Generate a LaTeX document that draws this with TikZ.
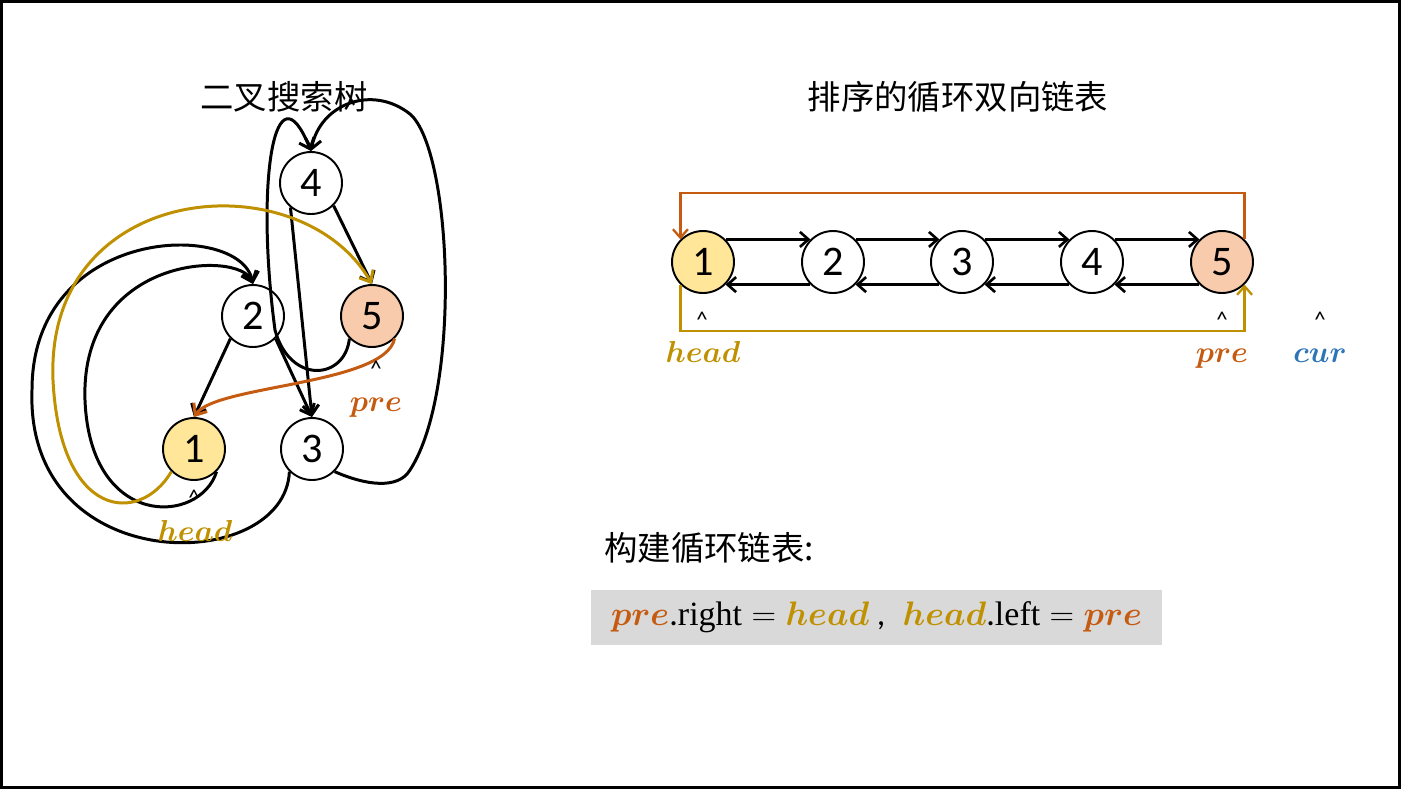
\documentclass[tikz,border=0pt]{standalone}
\usepackage{fontspec}
\usepackage{bm}
\setmainfont{Carlito}
\newfontfamily\cjk{Noto Sans CJK SC}
\newfontfamily\formfont{Liberation Serif}
\usetikzlibrary{arrows.meta}
\definecolor{HEADCOL}{HTML}{BF9000}
\definecolor{PRECOL}{HTML}{C55A11}
\definecolor{CURCOL}{HTML}{2E75B6}
\definecolor{HEADFILL}{HTML}{FFE699}
\definecolor{PREFILL}{HTML}{F8CBAD}
\definecolor{BOXGRAY}{HTML}{D9D9D9}
\begin{document}
\begin{tikzpicture}
[
 x=0.02cm, y=-0.02cm,
 inner sep=0mm,
 TCIRC/.style={circle, draw=black, fill=white, line width=1.1pt, minimum size=1.24cm, font=\fontsize{24}{24}\selectfont},
 HEADCIRC/.style={TCIRC, fill=HEADFILL},
 PRECIRC/.style={TCIRC, fill=PREFILL},
 TEDGE/.style={line width=1.7pt, -{Straight Barb[length=1.9mm,width=3.2mm]}},
 LEDGE/.style={line width=1.5pt, -{Straight Barb[length=1.7mm,width=3mm]}},
 LOOP/.style={line width=1.3pt, -{Straight Barb[length=1.7mm,width=3mm]}},
 CARET/.style={font=\fontsize{13}{13}\selectfont},
 PTR/.style={anchor=base, font=\fontsize{16}{16}\selectfont},
 TITLE/.style={font=\cjk\fontsize{19}{19}\selectfont},
 FORMBOX/.style={fill=BOXGRAY, minimum width=11.42cm, minimum height=1.1cm, font=\fontsize{17.28}{18}\selectfont},
 ]
%
\useasboundingbox (0,0) rectangle (1401,789);
\draw[line width=1.7pt] (1.5,1.5) rectangle (1399.5,787.5);
%
\node [TITLE]  (ttree)  at (284,97)  {二叉搜索树};
\node [TITLE]  (tlist)  at (958,97)  {排序的循环双向链表};
\node [TITLE, anchor=west]  (tbuild)  at (604,548)  {构建循环链表:};
%
% tree
\node [TCIRC]     (t4)   at (311,183)  {4};
\node [TCIRC]     (t2)   at (253,316)  {2};
\node [PRECIRC]   (t5)   at (372,316)  {5};
\node [HEADCIRC]  (t1)   at (194,449)  {1};
\node [TCIRC]     (t3)   at (312,449)  {3};
%
\draw [TEDGE]  (t4.-45)  -- (t5.north) ;
\draw [TEDGE]  (t4.-130) -- (t3.north) ;
\draw [TEDGE]  (t2.-135) -- (t1.north) ;
\draw [TEDGE]  (t2.-45)  -- (t3.north) ;
%
\draw [TEDGE]  (t1.-45) .. controls (200,525) and (90,530) .. (85,400)
               .. controls (80,255) and (240,250) .. (t2.north) ;
\draw [TEDGE]  (t3.-135) .. controls (285,575) and (25,580) .. (32,390)
               .. controls (32,225) and (240,220) .. (t2.north) ;
\draw [TEDGE]  (t5.-135) .. controls (345,380) and (290,385) .. (275,330)
               .. controls (255,180) and (275,62) .. (t4.north) ;
\draw [TEDGE]  (t3.-45) .. controls (365,485) and (398,490) .. (410,470)
               .. controls (462,390) and (452,150) .. (410,114)
               .. controls (372,84) and (320,104) .. (t4.north) ;
%
\draw [TEDGE, color=HEADCOL]  (t1.-135) .. controls (140,525) and (60,520) .. (53,380)
               .. controls (45,180) and (300,160) .. (t5.north) ;
\draw [TEDGE, color=PRECOL]   (t5.-45) .. controls (385,385) and (215,385) .. (t1.north) ;
%
\node [CARET]  (tc1)  at (194,498)  {\^{}};
\node [CARET]  (tc5)  at (376,369)  {\^{}};
\node [PTR, text=HEADCOL]  (thead)  at (195,541)  {$\bm{head}$};
\node [PTR, text=PRECOL]   (tpre)   at (376,411)  {$\bm{pre}$};
%
% list
\node [HEADCIRC]  (l1)   at (703,262)  {1};
\foreach \i/\x in {2/833,3/962,4/1092}
   { \node [TCIRC]  (l\i)  at (\x,262)  {\i}; }
\node [PRECIRC]   (l5)   at (1222,262)  {5};
%
\foreach \i/\j in {1/2,2/3,3/4,4/5}
   {
     \draw [LEDGE]  (l\i.45)   -- (l\j.135) ;
     \draw [LEDGE]  (l\j.-135) -- (l\i.-45) ;
   }
%
\coordinate (ltop) at (0,193);
\coordinate (lbot) at (0,331);
\draw [LOOP, color=PRECOL]   (l5.45)   -- (l5.45 |- ltop)   -| (l1.135) ;
\draw [LOOP, color=HEADCOL]  (l1.-135) -- (l1.-135 |- lbot) -| (l5.-45) ;
%
\node [CARET]  (lc1)   at (702,320)   {\^{}};
\node [CARET]  (lc5)   at (1222,320)  {\^{}};
\node [CARET]  (lcc)   at (1320,320)  {\^{}};
\node [PTR, text=HEADCOL]  (lhead)  at (703,362)   {$\bm{head}$};
\node [PTR, text=PRECOL]   (lpre)   at (1222,362)  {$\bm{pre}$};
\node [PTR, text=CURCOL]   (lcur)   at (1320,362)  {$\bm{cur}$};
%
\node [FORMBOX]  (form)  at (876.5,617.5)
   {\scalebox{1.12}{$\color{PRECOL}\bm{pre}$.{\formfont right}$\;=\;$$\color{HEADCOL}\bm{head}$ ,\; $\color{HEADCOL}\bm{head}$.{\formfont left}$\;=\;$$\color{PRECOL}\bm{pre}$}};
%
\end{tikzpicture}
\end{document}
